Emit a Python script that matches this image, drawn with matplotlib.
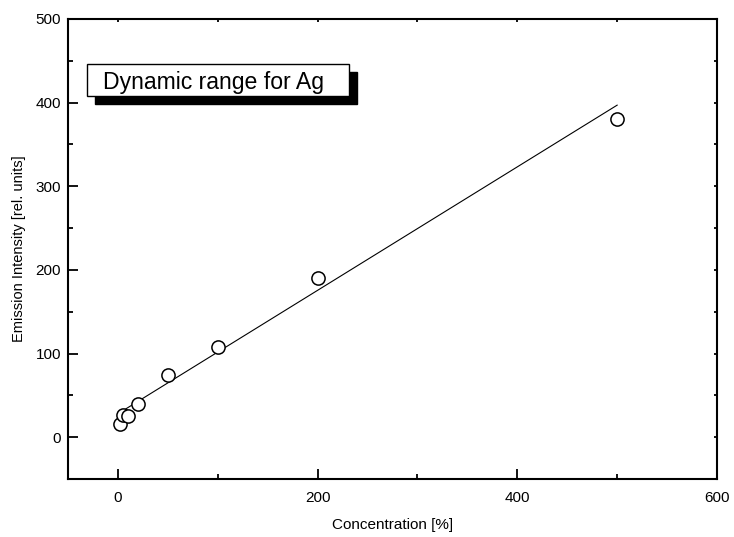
import numpy as np
import matplotlib
matplotlib.use('Agg')
import matplotlib.pyplot as plt
from matplotlib.patches import Rectangle
from matplotlib.ticker import MultipleLocator

# Ag calibration points
conc = [2, 5, 10, 20, 50, 100, 200, 500]
intensity = [16, 26, 25, 40, 74, 108, 190, 380]

# linear fit drawn over 5..500 %
fit_slope = 0.738
fit_intercept = 28.0
fit_range = [5, 500]

x_ticks = [0, 200, 400, 600]
y_ticks = [0, 100, 200, 300, 400, 500]

plt.rcParams['font.family'] = ['Liberation Sans', 'DejaVu Sans']

W, H = 734, 537
fig = plt.figure(figsize=(W / 100, H / 100), dpi=100)
ax = fig.add_axes([68 / W, 1 - 479 / H, 649 / W, 460 / H])

ax.plot(conc, intensity, 'o', ms=9.5, mfc='white', mec='black', mew=1.1, zorder=3)
xf = np.array(fit_range, dtype=float)
ax.plot(xf, fit_slope * xf + fit_intercept, color='black', lw=0.8, zorder=2)

ax.set_xlim(-50, 600)
ax.set_ylim(-50, 500)
ax.set_xticks(x_ticks)
ax.set_yticks(y_ticks)
ax.xaxis.set_minor_locator(MultipleLocator(100))
ax.yaxis.set_minor_locator(MultipleLocator(50))

for s in ax.spines.values():
    s.set_linewidth(1.5)

ax.tick_params(which='both', direction='in', top=True, right=True, width=1.3,
               labelsize=11)
ax.tick_params(which='major', length=7.2)
ax.tick_params(which='minor', length=3.6)
ax.tick_params(axis='x', pad=9)
ax.tick_params(axis='y', pad=5)

# short ticks on the top and right edges
for axis in (ax.xaxis, ax.yaxis):
    for t in axis.get_major_ticks() + axis.get_minor_ticks():
        t.tick2line.set_markersize(2.5)

ax.set_xlabel('Concentration [%]', fontsize=11, labelpad=9)
ax.set_ylabel('Emission Intensity [rel. units]', fontsize=10.5, labelpad=7)

# title box with drop shadow
bx0, bx1 = 19 / 649, 281 / 649
by0, by1 = (479 - 96) / 460, (479 - 64) / 460
dx, dy = 8 / 649, 8 / 460
ax.add_patch(Rectangle((bx0 + dx, by0 - dy), bx1 - bx0, by1 - by0,
                       transform=ax.transAxes, facecolor='black',
                       edgecolor='black', zorder=5, clip_on=False))
ax.add_patch(Rectangle((bx0, by0), bx1 - bx0, by1 - by0,
                       transform=ax.transAxes, facecolor='white',
                       edgecolor='black', lw=1.0, zorder=6, clip_on=False))
ax.text(bx0 + 16 / 649, (479 - 89) / 460, 'Dynamic range for Ag',
        transform=ax.transAxes, fontsize=16.6, va='baseline', ha='left',
        zorder=7)

fig.savefig('out.png', dpi=100)
